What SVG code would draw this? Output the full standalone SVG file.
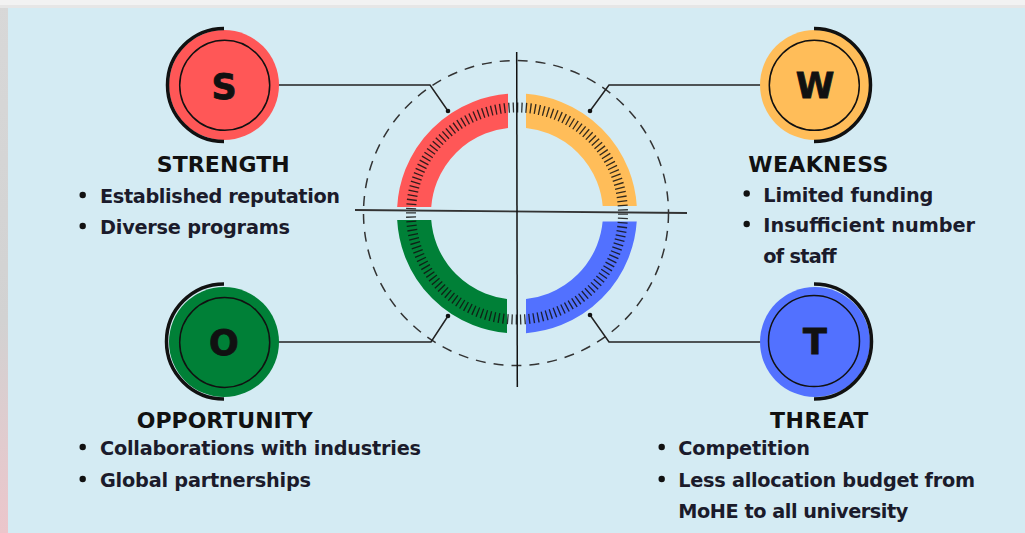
<svg xmlns="http://www.w3.org/2000/svg" width="1025" height="533" viewBox="0 0 1025 533">
<defs>
<linearGradient id="edge" x1="0" y1="0" x2="0" y2="1">
<stop offset="0" stop-color="#d8d8d8"/><stop offset="0.6" stop-color="#d2d2d2"/><stop offset="1" stop-color="#ecc6cb"/>
</linearGradient>
<clipPath id="qS"><rect x="0" y="0" width="508" height="207"/></clipPath>
<clipPath id="qW"><rect x="526" y="0" width="300" height="206"/></clipPath>
<clipPath id="qO"><rect x="0" y="220" width="507" height="300"/></clipPath>
<clipPath id="qT"><rect x="526" y="221.5" width="300" height="300"/></clipPath>
</defs>
<style>
.h{font-family:"DejaVu Sans","Liberation Sans",sans-serif;font-weight:700;font-size:22px;fill:#111}
.b{font-family:"DejaVu Sans","Liberation Sans",sans-serif;font-weight:700;font-size:19.3px;fill:#1b1b2b}
.L{font-family:"DejaVu Sans","Liberation Sans",sans-serif;font-weight:700;font-size:35px;fill:#111;text-anchor:middle;stroke:#111;stroke-width:0.8}
.dot{fill:#111}
.arc{fill:none;stroke-width:34}
.ring{fill:none;stroke:#111;stroke-width:1.5}
.half{fill:none;stroke:#111;stroke-width:3.5}
.conn{fill:none;stroke:#222;stroke-width:1.5}
</style>
<rect x="0" y="0" width="1025" height="533" fill="url(#edge)"/>
<rect x="0" y="0" width="1025" height="5" fill="#f2f2f2"/>
<rect x="0" y="5" width="1025" height="3" fill="#e6e6e6"/>
<rect x="8" y="8" width="1017" height="525" fill="#d4ebf3"/>

<g id="center">
<circle cx="516" cy="213" r="152.5" fill="none" stroke="#333" stroke-width="1.5" stroke-dasharray="10 8"/>
<circle cx="517" cy="213.5" r="103" class="arc" stroke="#ff5757" clip-path="url(#qS)"/>
<circle cx="517" cy="213.5" r="103" class="arc" stroke="#ffbd59" clip-path="url(#qW)"/>
<circle cx="517" cy="213.5" r="103" class="arc" stroke="#008037" clip-path="url(#qO)"/>
<circle cx="517" cy="213.5" r="103" class="arc" stroke="#5271ff" clip-path="url(#qT)"/>
<circle cx="517" cy="213.5" r="106" fill="none" stroke="#111" stroke-width="10" pathLength="152" stroke-dasharray="0.3 0.7" opacity="0.85"/>
<line x1="355" y1="210" x2="687" y2="213" stroke="#333" stroke-width="1.8"/>
<line x1="516.7" y1="52" x2="517.3" y2="387" stroke="#111" stroke-width="1.5"/>
</g>

<g id="connectors">
<path class="conn" d="M270 85 H430 L448 111"/>
<path class="conn" d="M590 111 L609 85 H769"/>
<path class="conn" d="M270 342 H431 L448 316"/>
<path class="conn" d="M590 315 L609 342 H769" stroke="#555"/>
<circle class="dot" cx="448" cy="111" r="2.3"/>
<circle class="dot" cx="590" cy="111" r="2.3"/>
<circle class="dot" cx="448" cy="316" r="2.3"/>
<circle class="dot" cx="590" cy="315" r="2.3"/>
</g>

<g id="node-S">
<circle cx="224" cy="85" r="55" fill="#ff5757"/>
<path class="half" d="M224 28.5 A56.5 56.5 0 0 0 224 141.5"/>
<circle class="ring" cx="224.7" cy="85.3" r="45"/>
<text class="L" x="224" y="99">S</text>
<text class="h" x="156.7" y="171.7" textLength="133">STRENGTH</text>
<circle class="dot" cx="82.7" cy="195" r="3.2"/>
<text class="b" x="100" y="203" textLength="240">Established reputation</text>
<circle class="dot" cx="82.7" cy="226" r="3.2"/>
<text class="b" x="100" y="234" textLength="190">Diverse programs</text>
</g>

<g id="node-W">
<circle cx="815" cy="85" r="55" fill="#ffbd59"/>
<path class="half" d="M814 28.5 A56.5 56.5 0 0 1 814 141.5"/>
<circle class="ring" cx="814.3" cy="85.3" r="45"/>
<text class="L" x="815" y="97.5">W</text>
<text class="h" x="748.3" y="171.7" textLength="140">WEAKNESS</text>
<circle class="dot" cx="746.7" cy="193.5" r="3.2"/>
<text class="b" x="763.3" y="201.7" textLength="170">Limited funding</text>
<circle class="dot" cx="746.7" cy="224" r="3.2"/>
<text class="b" x="763.3" y="232" textLength="211.7">Insufficient number</text>
<text class="b" x="763.3" y="262.5" textLength="73.4">of staff</text>
</g>

<g id="node-O">
<circle cx="224" cy="342" r="55" fill="#008037"/>
<path class="half" d="M224 284 A57.5 57.5 0 0 0 224 399"/>
<circle class="ring" cx="224.7" cy="342.5" r="45"/>
<text class="L" x="224" y="355">O</text>
<text class="h" x="136.7" y="428.3" textLength="176">OPPORTUNITY</text>
<circle class="dot" cx="82.7" cy="447" r="3.2"/>
<text class="b" x="100" y="455" textLength="321">Collaborations with industries</text>
<circle class="dot" cx="82.7" cy="479" r="3.2"/>
<text class="b" x="100" y="487" textLength="211">Global partnerships</text>
</g>

<g id="node-T">
<circle cx="815" cy="342" r="55" fill="#5271ff"/>
<path class="half" d="M814 284 A57.5 57.5 0 0 1 814 399"/>
<circle class="ring" cx="814" cy="341" r="45.5"/>
<text class="L" x="815" y="354">T</text>
<text class="h" x="770" y="428.3" textLength="98.3">THREAT</text>
<circle class="dot" cx="661.7" cy="447" r="3.2"/>
<text class="b" x="678.3" y="455" textLength="131.7">Competition</text>
<circle class="dot" cx="661.7" cy="479" r="3.2"/>
<text class="b" x="678.3" y="487" textLength="296.7">Less allocation budget from</text>
<text class="b" x="678.3" y="518.3" textLength="230">MoHE to all university</text>
</g>
</svg>
